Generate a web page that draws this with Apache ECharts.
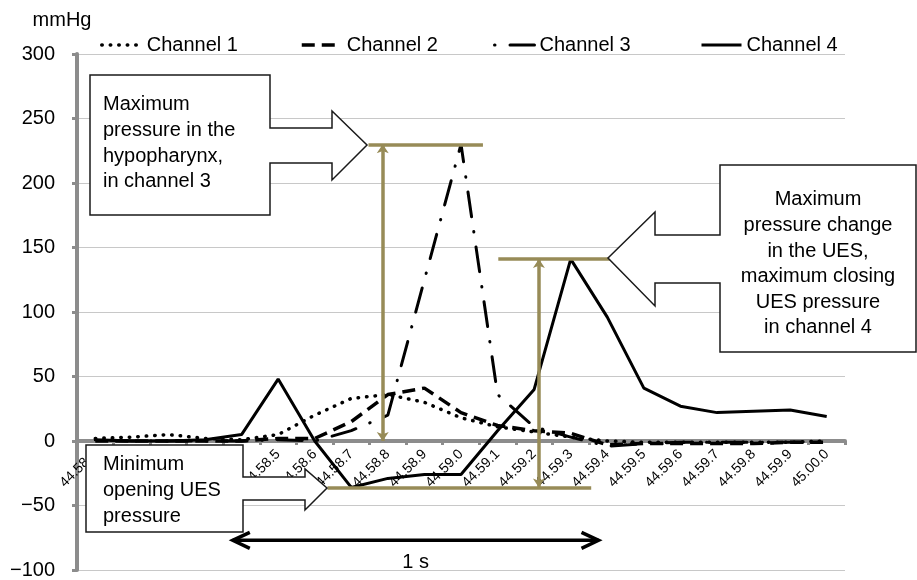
<!DOCTYPE html>
<html><head><meta charset="utf-8">
<script src="https://cdn.jsdelivr.net/npm/echarts@6/dist/echarts.min.js"></script>
<style>html,body{margin:0;padding:0;background:#fff}#c{width:917px;height:580px}</style>
</head><body><div id="c"></div>
<script>
const categories = ['44.58.0','44.58.1','44.58.2','44.58.3','44.58.4','44.58.5','44.58.6','44.58.7','44.58.8','44.58.9',
  '44.59.0','44.59.1','44.59.2','44.59.3','44.59.4','44.59.5','44.59.6','44.59.7','44.59.8','44.59.9','45.00.0'];
const seriesNames = ['Channel 1','Channel 2','Channel 3','Channel 4'];
const channel1 = [2, 3, 5, 2, 1, 5, 20, 33, 36, 30, 18, 11, 7, 3, 0, -1, -1, -1, -1, -1, 0];
const channel2 = [0, 0, 0, 0, 0, 2, 2, 15, 36, 41, 22, 12, 8, 6, -3, -2, -2, -2, -2, -1, -1];
const channel3 = [1, 0, 0, 0, 0, 1, 0, 8, 20, 125, 230, 36, 11, 3, -4, -2, -1, -1, -1, -1, -1];
const channel4 = [1, 0, 0, 1, 5, 48, 0, -36, -29, -26, -26, 8, 40, 141, 96, 41, 27, 22, 23, 24, 19];
const yTicks = {min: -100, max: 300, step: 50};
// annotation guides (x = fractional category index, y = mmHg)
const guideHorizontal = [[[7.47, 230], [10.6, 230]], [[11.02, 141], [14.1, 141]], [[6.35, -36], [13.56, -36]]];
const guideVertical = [[[7.86, 230], [7.86, 0]], [[12.13, 141], [12.13, -36]]];
const oneSecond = {from: 3.76, to: 13.76, y: -77, label: '1 s'};
const callout1Text = 'Maximum\npressure in the\nhypopharynx,\nin channel 3';
const callout2Text = 'Maximum\npressure change\nin the UES,\nmaximum closing\nUES pressure\nin channel 4';
const callout3Text = 'Minimum\nopening UES\npressure';

const FONT = '"Liberation Sans", Arial, sans-serif';
const OLIVE = '#978b57';
const W = 917, H = 580;
const GRID = {left: 77, right: 72, top: 54, bottom: 10};
const plotH = H - GRID.top - GRID.bottom;
const zeroOffset = -plotH * (0 - yTicks.min) / (yTicks.max - yTicks.min);

const chart = echarts.init(document.getElementById('c'));
const styles = [
  {type: [0.5, 8], cap: 'round', width: 3.5},
  {type: [13, 7], cap: 'butt', width: 3.5},
  {type: [25, 15, 0.5, 15], cap: 'round', width: 3, dashOffset: 40},
  {type: 'solid', cap: 'butt', width: 3}
];
const dataSets = [channel1, channel2, channel3, channel4];
const legendLeft = [95, 295, 488, 695];

const option = {
  animation: false,
  textStyle: {fontFamily: FONT},
  grid: Object.assign({containLabel: false, outerBoundsMode: 'none'}, GRID),
  legend: seriesNames.map((n, i) => ({
    data: [n], left: legendLeft[i], top: 30, itemWidth: 40, itemHeight: 14,
    textStyle: {fontSize: 20, color: '#000', fontFamily: FONT},
    itemStyle: {opacity: 0},
    lineStyle: {width: styles[i].width, opacity: 1}
  })),
  xAxis: [{
    type: 'category', data: categories, boundaryGap: true, position: 'bottom', offset: zeroOffset,
    axisLine: {onZero: false, lineStyle: {color: '#8c8c8c', width: 4}},
    axisTick: {show: true, length: 4, lineStyle: {color: '#8c8c8c', width: 3}},
    axisLabel: {rotate: 45, fontSize: 14, color: '#000', margin: 11, interval: 0, fontFamily: FONT},
    splitLine: {show: false}
  }, {
    type: 'value', min: -0.5, max: 20.5, show: false
  }],
  yAxis: {
    type: 'value', min: yTicks.min, max: yTicks.max, interval: yTicks.step,
    name: 'mmHg', nameLocation: 'end', nameGap: 24,
    nameTextStyle: {fontSize: 20, color: '#000', align: 'center', padding: [0, 30, 0, 0], fontFamily: FONT},
    axisLine: {show: true, onZero: false, lineStyle: {color: '#8c8c8c', width: 4}},
    axisTick: {show: true, length: 5, lineStyle: {color: '#8c8c8c', width: 3}},
    axisLabel: {fontSize: 20, color: '#000', margin: 22, fontFamily: FONT,
      formatter: v => String(v).replace('-', '\u2212')},
    splitLine: {lineStyle: {color: '#c8c8c8', width: 1}}
  },
  series: seriesNames.map((n, i) => ({
    type: 'line', name: n, data: dataSets[i], symbol: 'none', showSymbol: false, z: 3,
    itemStyle: {color: '#000'},
    lineStyle: Object.assign({color: '#000'}, styles[i])
  })).concat([
    {type: 'lines', coordinateSystem: 'cartesian2d', xAxisIndex: 1, yAxisIndex: 0, z: 4,
     symbol: 'none', lineStyle: {color: OLIVE, width: 3.5, opacity: 1, curveness: 0},
     data: guideHorizontal.map(c => ({coords: c}))},
    {type: 'lines', coordinateSystem: 'cartesian2d', xAxisIndex: 1, yAxisIndex: 0, z: 4,
     symbol: ['arrow', 'arrow'], symbolSize: 9, lineStyle: {color: OLIVE, width: 3.5, opacity: 1, curveness: 0},
     data: guideVertical.map(c => ({coords: c}))}
  ])
};
chart.setOption(option);

const p1 = chart.convertToPixel({xAxisIndex: 1, yAxisIndex: 0}, [oneSecond.from, oneSecond.y]);
const p2 = chart.convertToPixel({xAxisIndex: 1, yAxisIndex: 0}, [oneSecond.to, oneSecond.y]);
const boxStyle = {fill: '#fff', stroke: '#1a1a1a', lineWidth: 1.5};
const txt = (x, y, t, align) => ({type: 'text', x, y, z: 101,
  style: {text: t, fontSize: 20, fontFamily: FONT, fill: '#000', align, verticalAlign: 'top', lineHeight: 25.6}});
chart.setOption({graphic: [
  {type: 'polygon', z: 100, style: boxStyle, shape: {points: [[90,75],[270,75],[270,128],[332,128],[332,111],[367,145],[332,180],[332,163],[270,163],[270,215],[90,215]]}},
  txt(103, 92, callout1Text, 'left'),
  {type: 'polygon', z: 100, style: boxStyle, shape: {points: [[916,165],[720,165],[720,235],[655,235],[655,212],[608,258],[655,306],[655,283],[720,283],[720,352],[916,352]]}},
  txt(818, 187, callout2Text, 'center'),
  {type: 'polygon', z: 100, style: boxStyle, shape: {points: [[86,445],[243,445],[243,477],[305,477],[305,469],[327,488],[305,510],[305,500],[243,500],[243,532],[86,532]]}},
  txt(103, 452, callout3Text, 'left'),
  {type: 'polyline', z: 100, shape: {points: [[p1[0], p1[1]], [p2[0], p2[1]]]}, style: {stroke: '#000', lineWidth: 3.5, fill: null}},
  {type: 'polyline', z: 100, shape: {points: [[p1[0]+17, p1[1]-8], [p1[0], p1[1]], [p1[0]+17, p1[1]+8]]}, style: {stroke: '#000', lineWidth: 3.5, fill: null}},
  {type: 'polyline', z: 100, shape: {points: [[p2[0]-17, p2[1]-8], [p2[0], p2[1]], [p2[0]-17, p2[1]+8]]}, style: {stroke: '#000', lineWidth: 3.5, fill: null}},
  {type: 'text', z: 101, x: (p1[0]+p2[0])/2, y: p1[1] + 22,
   style: {text: oneSecond.label, fontSize: 20, fontFamily: FONT, fill: '#000', align: 'center', verticalAlign: 'middle'}}
]});
</script></body></html>
